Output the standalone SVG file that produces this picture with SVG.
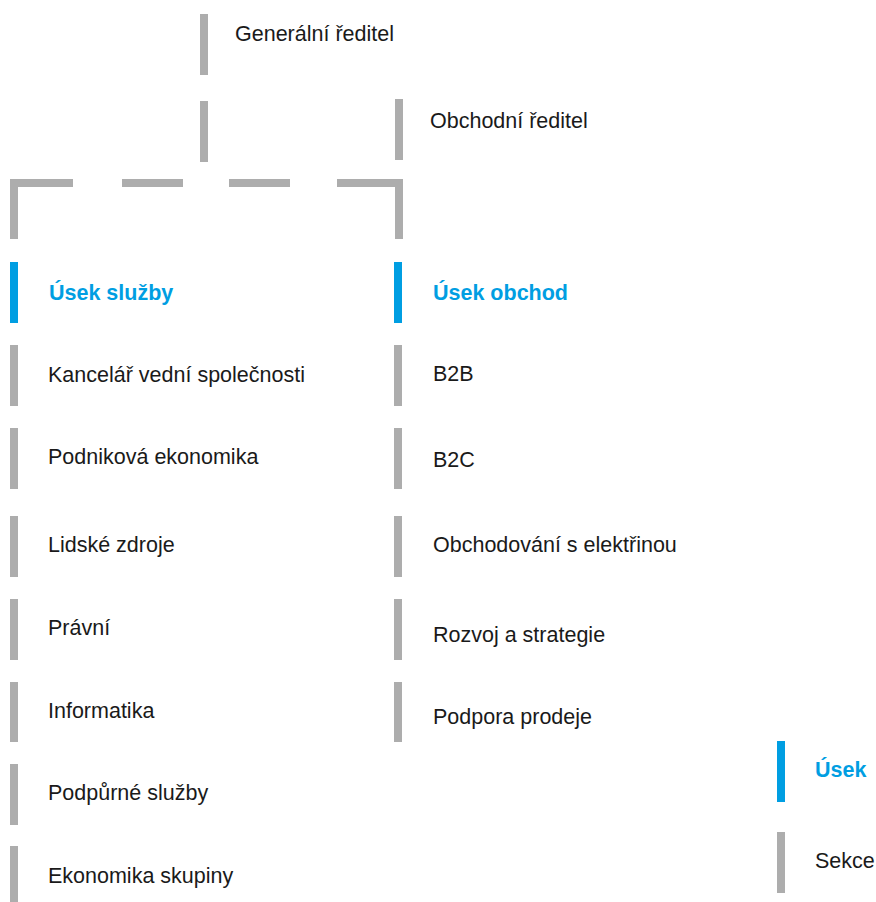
<svg xmlns="http://www.w3.org/2000/svg" width="876" height="902" viewBox="0 0 876 902">
<style>
  .bar { fill: #adadad; }
  .bar.sel { fill: #009ee2; }
  .t { font-family: "Liberation Sans", Arial, sans-serif; font-size: 21.5px; fill: #1a1a1a; }
  .h { font-family: "Liberation Sans", Arial, sans-serif; font-size: 21.5px; font-weight: bold; fill: #009ee2; }
  .conn { fill: none; stroke: #adadad; stroke-width: 8; stroke-linejoin: miter; stroke-linecap: butt; }
</style>
<rect width="876" height="902" fill="#ffffff"/>
<g id="connectors">
  <path class="conn" d="M204,101 V162"/>
  <path class="conn" d="M14,239 V183 H73"/>
  <path class="conn" d="M122,183 H183"/>
  <path class="conn" d="M229,183 H290"/>
  <path class="conn" d="M337,183 H399 V239"/>
</g>
<g id="generalni-reditel"><rect class="bar" x="200" y="14" width="8" height="61"/><text class="t" x="235" y="41">Generální ředitel</text></g>
<g id="obchodni-reditel"><rect class="bar" x="395" y="99" width="8" height="61"/><text class="t" x="430" y="128">Obchodní ředitel</text></g>

<g id="usek-sluzby"><rect class="bar sel" x="10" y="262" width="8" height="61"/><text class="h" x="49" y="300">Úsek služby</text></g>
<g id="kancelar"><rect class="bar" x="10" y="345" width="8" height="61"/><text class="t" x="48" y="382">Kancelář vední společnosti</text></g>
<g id="podnikova"><rect class="bar" x="10" y="428" width="8" height="61"/><text class="t" x="48" y="464">Podniková ekonomika</text></g>
<g id="lidske"><rect class="bar" x="10" y="516" width="8" height="61"/><text class="t" x="48" y="552">Lidské zdroje</text></g>
<g id="pravni"><rect class="bar" x="10" y="599" width="8" height="61"/><text class="t" x="48" y="635">Právní</text></g>
<g id="informatika"><rect class="bar" x="10" y="682" width="8" height="60"/><text class="t" x="48" y="718">Informatika</text></g>
<g id="podpurne"><rect class="bar" x="10" y="764" width="8" height="61"/><text class="t" x="48" y="800">Podpůrné služby</text></g>
<g id="ekonomika-skupiny"><rect class="bar" x="10" y="846" width="8" height="61"/><text class="t" x="48" y="883">Ekonomika skupiny</text></g>

<g id="usek-obchod"><rect class="bar sel" x="394" y="262" width="8" height="61"/><text class="h" x="433" y="300">Úsek obchod</text></g>
<g id="b2b"><rect class="bar" x="394" y="345" width="8" height="61"/><text class="t" x="433" y="381">B2B</text></g>
<g id="b2c"><rect class="bar" x="394" y="428" width="8" height="61"/><text class="t" x="433" y="467">B2C</text></g>
<g id="obchodovani"><rect class="bar" x="394" y="516" width="8" height="61"/><text class="t" x="433" y="552">Obchodování s elektřinou</text></g>
<g id="rozvoj"><rect class="bar" x="394" y="599" width="8" height="61"/><text class="t" x="433" y="642">Rozvoj a strategie</text></g>
<g id="podpora"><rect class="bar" x="394" y="682" width="8" height="60"/><text class="t" x="433" y="724">Podpora prodeje</text></g>

<g id="legend-usek"><rect class="bar sel" x="777" y="741" width="8" height="61"/><text class="h" x="815" y="777">Úsek</text></g>
<g id="legend-sekce"><rect class="bar" x="777" y="832" width="8" height="61"/><text class="t" x="815" y="868">Sekce</text></g>
</svg>
